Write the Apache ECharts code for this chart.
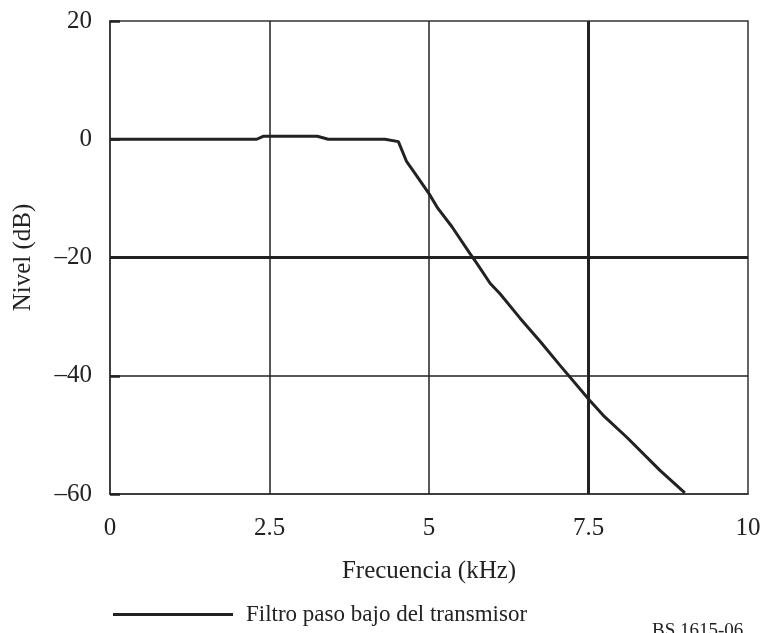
<!DOCTYPE html>
<html>
<head>
<meta charset="utf-8">
<script src="https://cdn.jsdelivr.net/npm/echarts@6/dist/echarts.min.js"></script>
<style>html,body{margin:0;padding:0;background:#fff;}#c{width:766px;height:633px;}</style>
</head>
<body>
<div id="c"></div>
<script>
const freq = [0, 2.3, 2.4, 3.25, 3.42, 4.31, 4.52, 4.65, 4.75, 5.0, 5.14, 5.36, 5.64, 5.75, 5.96, 6.11, 6.43, 6.75, 7.05, 7.52, 7.73, 8.1, 8.62, 9.01];
const level = [0, 0, 0.5, 0.5, 0, 0, -0.4, -3.8, -5.3, -9.2, -11.7, -14.8, -19.3, -21, -24.4, -26.1, -30.3, -34.3, -38.2, -44.2, -46.7, -50.4, -56, -59.8];
const xTicks = [0, 2.5, 5, 7.5, 10];
const yTicks = [20, 0, -20, -40, -60];
const seriesName = 'Filtro paso bajo del transmisor';
const thinX = [2.5, 5], thickX = [7.5];
const thinY = [-40], thickY = [-20];

const font = '"Liberation Serif", "DejaVu Serif", serif';
const chart = echarts.init(document.getElementById('c'));
const gridLines = [];
thinX.forEach(v => gridLines.push({xAxis: v, lineStyle: {width: 1.5}}));
thickX.forEach(v => gridLines.push({xAxis: v, lineStyle: {width: 3}}));
thinY.forEach(v => gridLines.push({yAxis: v, lineStyle: {width: 1.5}}));
thickY.forEach(v => gridLines.push({yAxis: v, lineStyle: {width: 3}}));

chart.setOption({
  animation: false,
  backgroundColor: '#fff',
  grid: {left: 110, top: 21, right: 18, bottom: 139, show: true, borderColor: '#333', borderWidth: 1.5,
    containLabel: false, outerBoundsMode: 'none'},
  xAxis: {
    type: 'value', min: 0, max: 10, interval: 2.5,
    name: 'Frecuencia (kHz)', nameLocation: 'middle', nameGap: 65,
    nameTextStyle: {fontFamily: font, fontSize: 25, color: '#222'},
    axisLine: {show: true, onZero: false, lineStyle: {color: '#333', width: 1.5}},
    axisTick: {show: false},
    splitLine: {show: false},
    axisLabel: {fontFamily: font, fontSize: 25, color: '#222', margin: 22,
      formatter: v => xTicks.includes(v) ? String(v) : ''}
  },
  yAxis: {
    type: 'value', min: -60, max: 20, interval: 20,
    name: 'Nivel (dB)', nameLocation: 'middle', nameGap: 74, nameRotate: 90,
    nameTextStyle: {fontFamily: font, fontSize: 25, color: '#222'},
    axisLine: {show: true, onZero: false, lineStyle: {color: '#333', width: 1.5}},
    axisTick: {show: true, inside: true, length: 10, lineStyle: {color: '#222', width: 2.5}},
    splitLine: {show: false},
    axisLabel: {fontFamily: font, fontSize: 25, color: '#222', margin: 18,
      formatter: v => yTicks.includes(v) ? String(v).replace('-', '\u2013') : ''}
  },
  legend: {
    show: true, left: 108, top: 598, icon: 'rect', itemWidth: 120, itemHeight: 3, itemGap: 10,
    textStyle: {fontFamily: font, fontSize: 23, color: '#222', padding: [0, 0, 0, 8]},
    data: [seriesName]
  },
  series: [
    {
      name: 'grid', type: 'line', data: [], silent: true,
      markLine: {silent: true, symbol: 'none', label: {show: false},
        lineStyle: {color: '#222', type: 'solid'}, data: gridLines}
    },
    {
      name: seriesName, type: 'line', showSymbol: false, symbol: 'none',
      lineStyle: {color: '#222', width: 3}, itemStyle: {color: '#222'},
      data: freq.map((f, i) => [f, level[i]])
    }
  ],
  graphic: [{
    type: 'text', left: 652, top: 622,
    style: {text: 'BS 1615-06', font: '19px ' + font, fill: '#222'}
  }]
});
</script>
</body>
</html>
